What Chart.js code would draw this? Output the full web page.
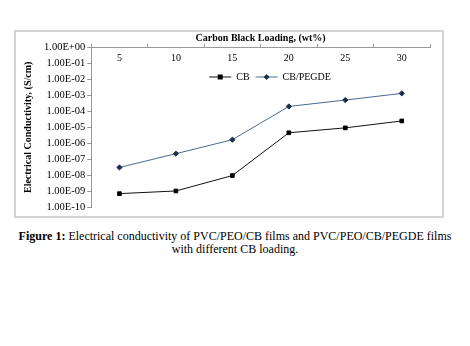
<!DOCTYPE html>
<html lang="en">
<head>
    <meta charset="UTF-8">
    <title>Electrical Conductivity vs Carbon Black Loading</title>
    <script src="https://cdn.jsdelivr.net/npm/chart.js"></script>
    <style>
        body {
            margin: 0;
            width: 470px;
            height: 346px;
            background: #fff;
            position: relative;
            font-family: "Liberation Serif", "Times New Roman", serif;
        }
        #frame {
            position: absolute;
            left: 14px;
            top: 30px;
            width: 426px;
            height: 184px;
            border: 2px solid #d4d4d4;
        }
        #frame canvas {
            display: block;
        }
        #caption {
            position: absolute;
            left: 0;
            top: 230px;
            width: 470px;
            text-align: center;
            font-size: 12px;
            line-height: 13px;
            color: #000;
        }
    </style>
</head>
<body>

<div id="frame"><canvas id="chart" width="426" height="184"></canvas></div>
<div id="caption"><b>Figure 1:</b> Electrical conductivity of PVC/PEO/CB films and PVC/PEO/CB/PEGDE films<br>with different CB loading.</div>

<script>
// carbon black loading (wt%)
const loadings = ['5', '10', '15', '20', '25', '30'];

// conductivity values (S/cm)
const cbValues = [7.5e-10, 1.1e-9, 1.0e-8, 4.6e-6, 9.3e-6, 2.5e-5];
const cbPegdeValues = [3.2e-8, 2.3e-7, 1.7e-6, 2.0e-4, 5.0e-4, 1.3e-3];

// y axis ticks
const yTickValues = [1, 1e-1, 1e-2, 1e-3, 1e-4, 1e-5, 1e-6, 1e-7, 1e-8, 1e-9, 1e-10];
const yTickLabels = ['1.00E+00', '1.00E-01', '1.00E-02', '1.00E-03', '1.00E-04', '1.00E-05',
                     '1.00E-06', '1.00E-07', '1.00E-08', '1.00E-09', '1.00E-10'];

const serif = '"Liberation Serif", "Times New Roman", serif';

// the top axis has its labels just below the axis line, inside the plot
const innerXLabels = {
    id: 'innerXLabels',
    afterDraw(chart) {
        const ctx = chart.ctx;
        const xs = chart.scales.x;
        ctx.save();
        ctx.font = '10px ' + serif;
        ctx.fillStyle = '#000';
        ctx.textAlign = 'center';
        ctx.textBaseline = 'middle';
        xs.ticks.forEach((t, i) => {
            ctx.fillText(xs.getLabelForValue(t.value), xs.getPixelForTick(i), chart.chartArea.top + 11);
        });
        ctx.restore();
    }
};

// legend drawn inside the plot area (line + marker + text)
const insideLegend = {
    id: 'insideLegend',
    afterDraw(chart) {
        const ctx = chart.ctx;
        const area = chart.chartArea;
        const y = area.top + 30;
        let x = area.left + 118;
        ctx.save();
        ctx.font = '10px ' + serif;
        ctx.textBaseline = 'middle';
        chart.data.datasets.forEach(ds => {
            ctx.strokeStyle = ds.borderColor;
            ctx.lineWidth = 1;
            ctx.beginPath();
            ctx.moveTo(x, y);
            ctx.lineTo(x + 22, y);
            ctx.stroke();
            ctx.fillStyle = ds.pointBackgroundColor;
            ctx.beginPath();
            if (ds.pointStyle === 'rect') {
                ctx.rect(x + 11 - 2.5, y - 2.5, 5, 5);
            } else {
                ctx.moveTo(x + 11, y - 3);
                ctx.lineTo(x + 14, y);
                ctx.lineTo(x + 11, y + 3);
                ctx.lineTo(x + 8, y);
                ctx.closePath();
            }
            ctx.fill();
            ctx.fillStyle = '#000';
            ctx.fillText(ds.label, x + 27, y + 0.5);
            x += 27 + ctx.measureText(ds.label).width + 6;
        });
        ctx.restore();
    }
};

new Chart(document.getElementById('chart'), {
    type: 'line',
    data: {
        labels: loadings,
        datasets: [
            {
                label: 'CB',
                data: cbValues,
                borderColor: '#111',
                borderWidth: 1,
                pointStyle: 'rect',
                pointRadius: 2.6,
                pointBackgroundColor: '#000',
                pointBorderColor: '#000',
                tension: 0
            },
            {
                label: 'CB/PEGDE',
                data: cbPegdeValues,
                borderColor: '#4a6894',
                borderWidth: 1,
                pointStyle: 'rectRot',
                pointRadius: 2.6,
                pointBackgroundColor: '#1d2d4a',
                pointBorderColor: '#1d2d4a',
                tension: 0
            }
        ]
    },
    options: {
        responsive: false,
        animation: false,
        layout: { padding: { top: 0, right: 12, bottom: 7, left: 6 } },
        plugins: {
            legend: { display: false },
            tooltip: { enabled: false }
        },
        scales: {
            x: {
                type: 'category',
                position: 'top',
                offset: true,
                grid: { offset: true, drawOnChartArea: false, tickLength: 3, color: '#999' },
                border: { color: '#999' },
                ticks: { display: false },
                title: {
                    display: true,
                    text: 'Carbon Black Loading, (wt%)',
                    color: '#000',
                    padding: { top: 0, bottom: 0 },
                    font: { family: serif, size: 10, weight: 'bold' }
                }
            },
            y: {
                type: 'logarithmic',
                min: 1e-10,
                max: 1,
                afterBuildTicks(scale) {
                    scale.ticks = yTickValues.map(v => ({ value: v }));
                },
                grid: { drawOnChartArea: false, tickLength: 4, color: '#999' },
                border: { color: '#999' },
                ticks: {
                    padding: 2,
                    color: '#000',
                    font: { family: serif, size: 10.5 },
                    callback: function(value) {
                        const i = yTickValues.findIndex(v => Math.abs(Math.log10(v) - Math.log10(value)) < 1e-6);
                        return i >= 0 ? yTickLabels[i] : '';
                    }
                },
                title: {
                    display: true,
                    text: 'Electrical Conductivity, (S/cm)',
                    color: '#000',
                    padding: { top: 0, bottom: 8 },
                    font: { family: serif, size: 10, weight: 'bold' }
                }
            }
        }
    },
    plugins: [innerXLabels, insideLegend]
});
</script>
</body>
</html>
